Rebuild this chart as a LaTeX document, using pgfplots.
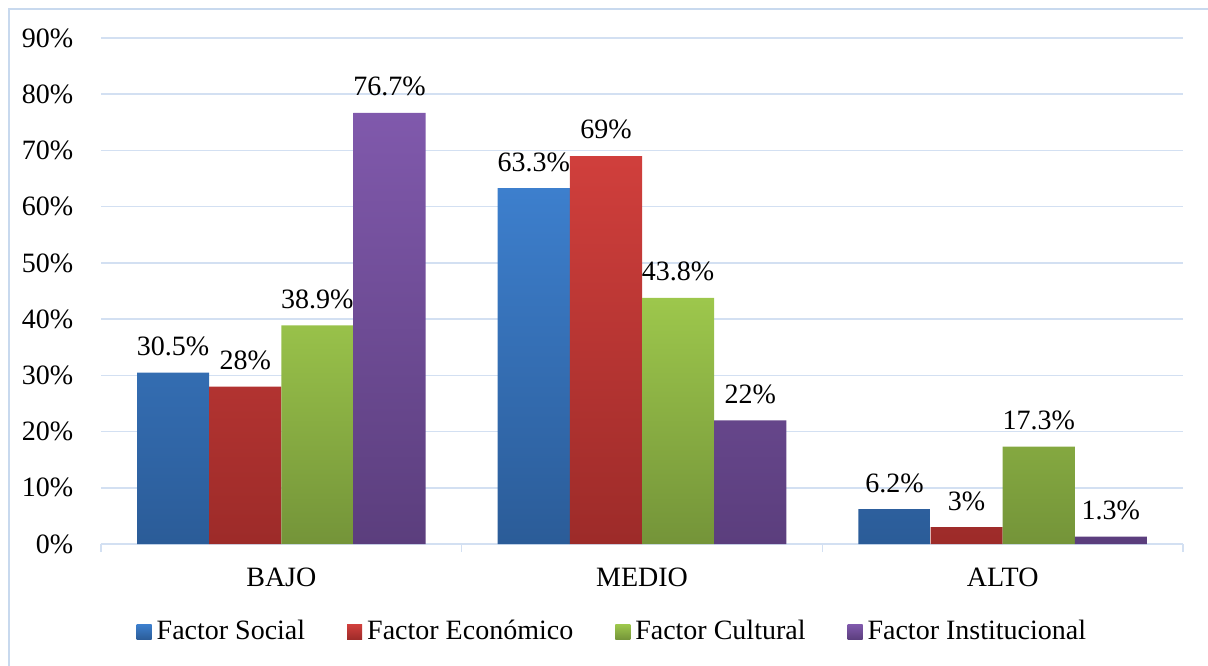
\documentclass[border=0pt]{standalone}
\usepackage{pgfplots}
\pgfplotsset{compat=1.18}
\usepackage{fontspec}
\setmainfont{Liberation Serif}
\definecolor{gridc}{HTML}{D3E0F2}
\definecolor{bordc}{HTML}{C8D9EE}
\definecolor{blueT}{HTML}{3D7FCD}\definecolor{blueB}{HTML}{2B5C98}
\definecolor{redT}{HTML}{D03F3C}\definecolor{redB}{HTML}{9D2B29}
\definecolor{greenT}{HTML}{9DC74C}\definecolor{greenB}{HTML}{749439}
\definecolor{purT}{HTML}{8059AC}\definecolor{purB}{HTML}{5B3E7D}
\begin{document}
\fontsize{14pt}{16.5pt}\selectfont
\begin{tikzpicture}
\useasboundingbox (0,0) rectangle (604pt,332.5pt);
\draw[bordc, line width=0.9pt] (4.5pt,-2pt) -- (4.5pt,328pt) -- (610pt,328pt);
\begin{axis}[
  at={(50.5pt,60.5pt)}, anchor=south west,
  scale only axis, width=541pt, height=253pt,
  /pgf/number format/assume math mode=true,
  ybar=0pt, bar width=0.2,
  xmin=-0.5, xmax=2.5, ymin=0, ymax=90,
  xtick={0,1,2}, xticklabels={BAJO,MEDIO,ALTO},
  minor xtick={-0.5,0.5,1.5,2.5},
  ytick={0,10,...,90},
  yticklabel={\pgfmathprintnumber{\tick}\%},
  ymajorgrids, grid style={gridc, line width=0.8pt},
  axis lines*=left,
  y axis line style={draw=none},
  x axis line style={gridc, line width=0.8pt},
  major tick length=0pt, minor tick length=4pt, tick align=outside,
  minor tick style={gridc, line width=0.8pt},
  xticklabel style={yshift=-7pt},
  yticklabel style={xshift=-9pt},
  nodes near coords={\pgfmathprintnumber{\pgfplotspointmeta}\%},
  every node near coord/.append style={yshift=3.5pt, text=black},
  legend columns=4,
  legend style={draw=none, at={(0.474,0)}, anchor=center, yshift=-44pt,
    /tikz/every even column/.append style={column sep=18.5pt},
    nodes={inner sep=2.5pt}},
  legend image code/.code={\path[#1] (0pt,-3.75pt) rectangle (7.5pt,3.75pt);},
]
\addplot[draw=none, top color=blueT, bottom color=blueB] coordinates {(0,30.5) (1,63.3) (2,6.2)};
\addplot[draw=none, top color=redT, bottom color=redB] coordinates {(0,28) (1,69) (2,3)};
\addplot[draw=none, top color=greenT, bottom color=greenB] coordinates {(0,38.9) (1,43.8) (2,17.3)};
\addplot[draw=none, top color=purT, bottom color=purB] coordinates {(0,76.7) (1,22) (2,1.3)};
\legend{Factor Social, Factor Económico, Factor Cultural, Factor Institucional}
\end{axis}
\end{tikzpicture}
\end{document}
